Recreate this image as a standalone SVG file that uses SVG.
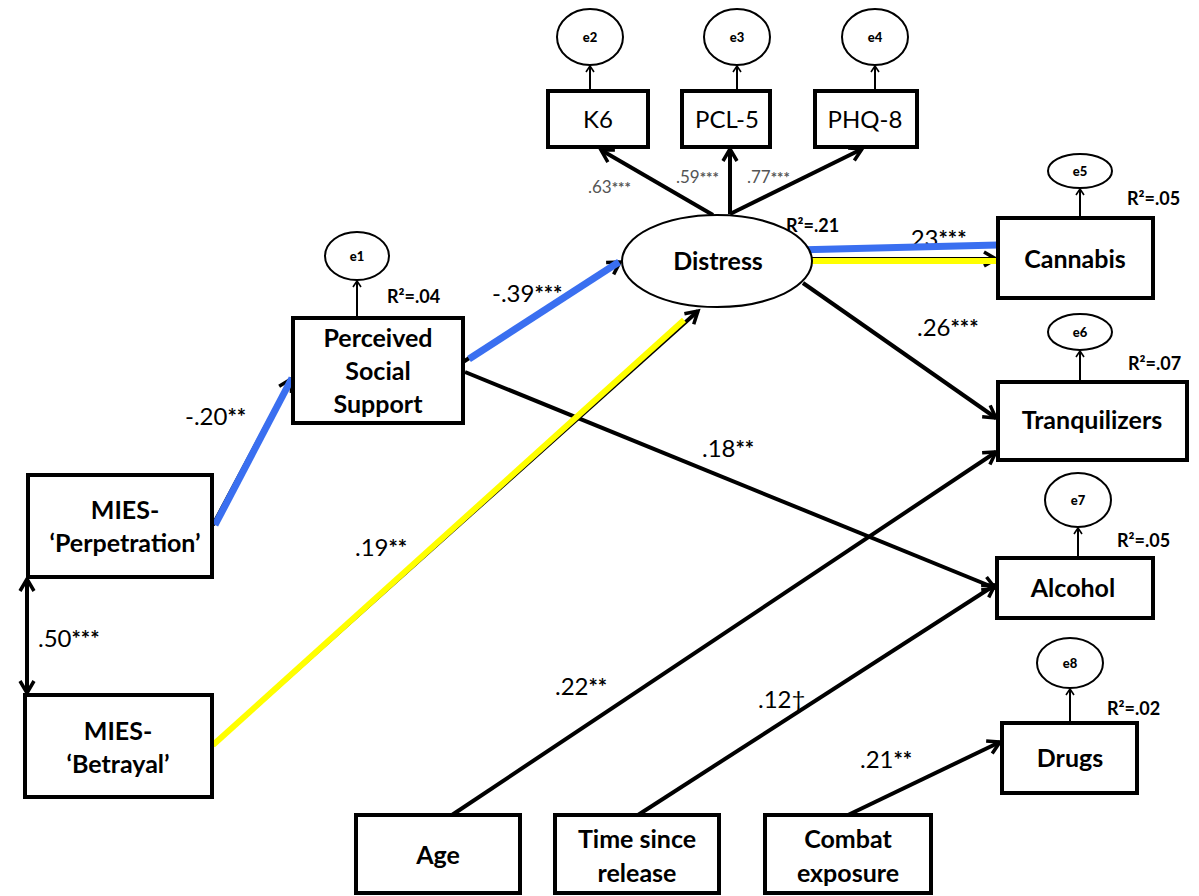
<svg xmlns="http://www.w3.org/2000/svg" width="1199" height="896" viewBox="0 0 1199 896">
<defs>
<marker id="ah" markerUnits="userSpaceOnUse" markerWidth="20" markerHeight="20" viewBox="0 0 20 20" refX="16" refY="10" orient="auto-start-reverse">
<path d="M4,3 L16,10 L4,17" fill="none" stroke="#000" stroke-width="3.5" stroke-linejoin="miter"/>
</marker>
<marker id="sa" markerUnits="userSpaceOnUse" markerWidth="12" markerHeight="12" viewBox="0 0 12 12" refX="10" refY="6" orient="auto">
<path d="M4,2 L10,6 L4,10" fill="none" stroke="#000" stroke-width="1.6"/>
</marker>
</defs>
<style>
.box{fill:#fff;stroke:#000;stroke-width:4}
.err{fill:#fff;stroke:#000;stroke-width:2}
.lat{fill:#fff;stroke:#000;stroke-width:2}
.c{fill:none;stroke:#000;stroke-width:4;marker-end:url(#ah)}
.e{fill:none;stroke:#000;stroke-width:2;marker-end:url(#sa)}
.blue{fill:none;stroke:#3a6ff0;stroke-width:7}
.yel{fill:none;stroke:#ffff00;stroke-width:6}
text{font-family:Lato,"Open Sans","Liberation Sans",sans-serif;fill:#000}
.lb{font-size:25px;font-weight:bold;text-anchor:middle}
.ln{font-size:24px;text-anchor:middle}
.et{font-size:13px;font-weight:900;text-anchor:middle}
.v{font-size:24px}
.g{font-size:17px;fill:#555}
.r{font-size:18px;font-weight:bold}
.s{font-weight:bold;font-size:22px}
.gs{font-weight:bold;font-size:15px}
</style>
<rect width="1199" height="896" fill="#fff"/>
<g id="connectors">
<path class="c" d="M713,215 L601,150"/>
<path class="c" d="M730,214 L730,149"/>
<path class="c" d="M730,214 L862,149"/>
<path class="e" d="M590,91 L590,66"/>
<path class="e" d="M737,91 L737,66"/>
<path class="e" d="M875,91 L875,66"/>
<path class="e" d="M357,318 L357,281"/>
<path class="e" d="M1080,218 L1080,189"/>
<path class="e" d="M1080,382 L1080,351"/>
<path class="e" d="M1078,558 L1078,528"/>
<path class="e" d="M1070,723 L1070,689"/>
<path class="c" d="M213,525 L291,379"/>
<path class="c" d="M463,362 L620,262"/>
<path class="c" d="M213,745 L698,311"/>
<path class="c" d="M812,259 L996,259"/>
<path class="c" d="M803,283 L996,418"/>
<path class="c" d="M465,372 L995,588"/>
<path class="c" d="M452,815 L996,452"/>
<path class="c" d="M638,815 L995,585"/>
<path class="c" d="M848,815 L1000,742"/>
<path class="c" d="M27,579 L27,693" style="marker-start:url(#ah)"/>
<path class="blue" d="M215,525 L292,378"/>
<path class="blue" d="M469,359 L619,262"/>
<path class="yel" d="M213,745 L684,320"/>
</g>
<g id="labels">
<text class="g" x="588" y="193">.63<tspan class="gs">***</tspan></text>
<text class="g" x="676" y="183">.59<tspan class="gs">***</tspan></text>
<text class="g" x="747" y="183">.77<tspan class="gs">***</tspan></text>
<text class="r" x="786" y="232">R²=.21</text>
<text class="v" x="905" y="247">.23<tspan class="s">***</tspan></text>
<text class="r" x="1127" y="205">R²=.05</text>
<text class="v" x="492" y="302">-.39<tspan class="s">***</tspan></text>
<text class="r" x="387" y="303">R²=.04</text>
<text class="v" x="917" y="336">.26<tspan class="s">***</tspan></text>
<text class="r" x="1128" y="370">R²=.07</text>
<text class="v" x="702" y="457">.18<tspan class="s">**</tspan></text>
<text class="v" x="185" y="425">-.20<tspan class="s">**</tspan></text>
<text class="r" x="1117" y="547">R²=.05</text>
<text class="v" x="355" y="556">.19<tspan class="s">**</tspan></text>
<text class="v" x="38" y="647">.50<tspan class="s">***</tspan></text>
<text class="v" x="555" y="695">.22<tspan class="s">**</tspan></text>
<text class="v" x="758" y="708">.12†</text>
<text class="r" x="1107" y="715">R²=.02</text>
<text class="v" x="860" y="768">.21<tspan class="s">**</tspan></text>
</g>
<g id="highlights">
<path class="blue" d="M795,250 L998,245"/>
<path class="yel" d="M795,261 L998,261"/>
</g>
<g id="e2"><ellipse class="err" cx="590" cy="37" rx="33" ry="28"/><text class="et" x="590" y="42">e2</text></g>
<g id="e3"><ellipse class="err" cx="737" cy="37" rx="33" ry="28"/><text class="et" x="737" y="42">e3</text></g>
<g id="e4"><ellipse class="err" cx="875" cy="37" rx="33" ry="28"/><text class="et" x="875" y="42">e4</text></g>
<g id="e1"><ellipse class="err" cx="357" cy="256" rx="32" ry="24"/><text class="et" x="357" y="261">e1</text></g>
<g id="e5"><ellipse class="err" cx="1080" cy="171" rx="32" ry="17"/><text class="et" x="1080" y="176">e5</text></g>
<g id="e6"><ellipse class="err" cx="1080" cy="332" rx="32" ry="18"/><text class="et" x="1080" y="337">e6</text></g>
<g id="e7"><ellipse class="err" cx="1078" cy="500" rx="33" ry="27"/><text class="et" x="1078" y="505">e7</text></g>
<g id="e8"><ellipse class="err" cx="1070" cy="663" rx="33" ry="25"/><text class="et" x="1070" y="668">e8</text></g>
<g id="k6"><rect class="box" x="548" y="91" width="100" height="56"/><text class="ln" x="598" y="128">K6</text></g>
<g id="pcl5"><rect class="box" x="682" y="91" width="88" height="56"/><text class="ln" x="727" y="128">PCL-5</text></g>
<g id="phq8"><rect class="box" x="815" y="91" width="102" height="56"/><text class="ln" x="865" y="128">PHQ-8</text></g>
<g id="distress"><ellipse class="lat" cx="717" cy="261" rx="95" ry="46"/><text class="lb" x="718" y="270">Distress</text></g>
<g id="pss"><rect class="box" x="293" y="318" width="170" height="105"/><text class="lb" x="378" y="347">Perceived</text><text class="lb" x="378" y="380">Social</text><text class="lb" x="378" y="413">Support</text></g>
<g id="perpetration"><rect class="box" x="28" y="475" width="184" height="102"/><text class="lb" x="125" y="519">MIES-</text><text class="lb" x="125" y="552">‘Perpetration’</text></g>
<g id="betrayal"><rect class="box" x="25" y="695" width="187" height="102"/><text class="lb" x="118" y="740">MIES-</text><text class="lb" x="118" y="773">‘Betrayal’</text></g>
<g id="cannabis"><rect class="box" x="998" y="218" width="155" height="80"/><text class="lb" x="1075" y="268">Cannabis</text></g>
<g id="tranquilizers"><rect class="box" x="998" y="382" width="189" height="78"/><text class="lb" x="1092" y="429">Tranquilizers</text></g>
<g id="alcohol"><rect class="box" x="997" y="558" width="156" height="60"/><text class="lb" x="1073" y="597">Alcohol</text></g>
<g id="drugs"><rect class="box" x="1002" y="723" width="135" height="70"/><text class="lb" x="1070" y="767">Drugs</text></g>
<g id="age"><rect class="box" x="356" y="815" width="164" height="78"/><text class="lb" x="438" y="864">Age</text></g>
<g id="time"><rect class="box" x="555" y="815" width="164" height="78"/><text class="lb" x="637" y="848">Time since</text><text class="lb" x="637" y="882">release</text></g>
<g id="combat"><rect class="box" x="765" y="815" width="166" height="78"/><text class="lb" x="848" y="848">Combat</text><text class="lb" x="848" y="882">exposure</text></g>
</svg>
